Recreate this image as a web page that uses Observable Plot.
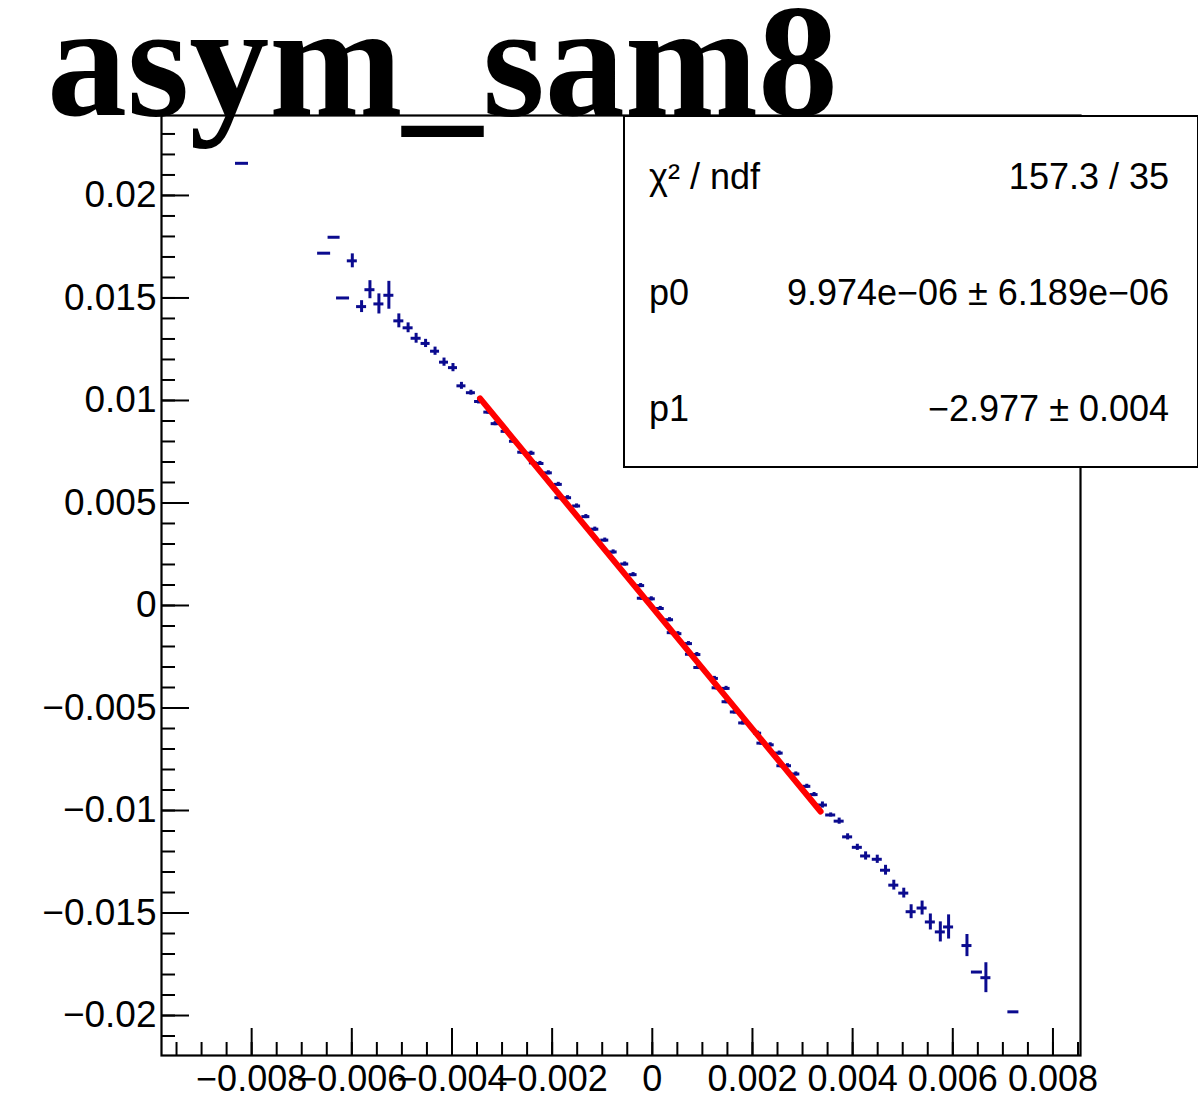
<!DOCTYPE html>
<html>
<head>
<meta charset="utf-8">
<script src="https://cdn.jsdelivr.net/npm/d3@7"></script>
<script src="https://cdn.jsdelivr.net/npm/@observablehq/plot@0.6"></script>
<style>
  html, body { margin: 0; padding: 0; background: #fff; }
  #wrap { position: relative; width: 1198px; height: 1117px; overflow: hidden; }
  #title { position: absolute; left: 47px; top: 0px; font-family: "Liberation Serif", "DejaVu Serif", serif; font-weight: bold; font-size: 160px; line-height: 122px; color: #000; white-space: nowrap; z-index: 2; }
  #stats { position: absolute; left: 623px; top: 115px; width: 572px; height: 349px; border: 2px solid #000; background: #fff; font-family: "Liberation Sans", Arial, sans-serif; font-size: 36px; color: #000; z-index: 1; }
  .row { position: absolute; left: 24px; right: 28px; height: 40px; line-height: 40px; }
  .row .k { position: absolute; left: 0; }
  .row .v { position: absolute; right: 0; white-space: nowrap; }
</style>
</head>
<body>
<div id="wrap">
  <div id="chart"></div>
  <div id="title"></div>
  <div id="stats"></div>
</div>
<script>
// ---- data ----
const titleText = "asym_sam8";
const xVals = [-0.008193,-0.006553,-0.006354,-0.006175,-0.005990,-0.005805,-0.005638,-0.005459,-0.005260,-0.005061,
  -0.004876,-0.004716,-0.004527,-0.004338,-0.004159,-0.003980,-0.003811,-0.003622,-0.003469,
  -0.003284,-0.003138,-0.002939,-0.002772,-0.002607,-0.002422,-0.002374,-0.002243,-0.002076,-0.001877,
  -0.001865,-0.001692,-0.001512,-0.001327,-0.001148,-0.000949,-0.000782,-0.000551,-0.000384,-0.000233,
  -0.000219,-0.000020,0.000159,0.000344,0.000378,0.000511,0.000722,0.000742,0.000890,0.000909,
  0.001240,0.001274,0.001473,0.001473,0.001638,0.001805,0.002103,0.002169,0.002354,0.002533,
  0.002567,0.002700,0.002866,0.003085,0.003230,
  0.003397,0.003562,0.003731,0.003900,0.004094,0.004259,0.004492,0.004657,0.004822,0.005021,
  0.005168,0.005387,0.005552,0.005751,0.005916,0.006283,0.006482,0.006661,0.007210];
const yVals = [0.021568,0.017184,0.017961,0.015000,0.016811,0.014578,0.015403,0.014709,0.015131,0.013883,
  0.013544,0.013034,0.012782,0.012403,0.011869,0.011602,0.010714,0.010379,0.009951,
  0.009432,0.008869,0.008495,0.008010,0.007476,0.007427,0.006956,0.006927,0.006471,0.005908,
  0.005257,0.005257,0.004854,0.004335,0.003723,0.003189,0.002612,0.002024,0.001505,0.000971,
  0.000354,0.000325,-0.000146,-0.000694,-0.001325,-0.001374,-0.001859,-0.002379,-0.002393,-0.003024,
  -0.003558,-0.004015,-0.004044,-0.004694,-0.005194,-0.005728,-0.006228,-0.006714,-0.006796,-0.007199,
  -0.007816,-0.007816,-0.008218,-0.008820,-0.009223,
  -0.009733,-0.010218,-0.010519,-0.011286,-0.011796,-0.012218,-0.012379,-0.012913,-0.013641,-0.014029,
  -0.014937,-0.014757,-0.015437,-0.015922,-0.015680,-0.016587,-0.017879,-0.018155,-0.019820];
const xErrs = [0.00013,0.00013,0.00012,0.00013,0.0001,0.0001,0.0001,0.0001,0.0001,0.0001,
  0.0001,0.0001,0.00009,0.00009,0.00009,0.00009,0.00009,0.00009,0.00008,
  0.00008,0.00008,0.00008,0.00008,0.00008,0.00008,0.00008,0.00008,0.00008,0.00008,
  0.00008,0.00008,0.00008,0.00008,0.00008,0.00008,0.00008,0.00008,0.00008,0.00008,
  0.00008,0.00008,0.00008,0.00008,0.00008,0.00008,0.00008,0.00008,0.00008,0.00008,
  0.00008,0.00008,0.00008,0.00008,0.00008,0.00008,0.00008,0.00008,0.00008,0.00008,
  0.00008,0.00008,0.00008,0.00008,0.00008,
  0.0001,0.0001,0.0001,0.0001,0.0001,0.0001,0.0001,0.0001,0.0001,0.0001,
  0.0001,0.0001,0.0001,0.0001,0.0001,0.0001,0.00011,0.0001,0.00011];
const yErrs = [0,0,0,0,0.00034,0.00029,0.00044,0.00049,0.00068,0.00034,
  0.00024,0.00024,0.0002,0.0002,0.0002,0.0002,0.00017,0.00012,0.00012,
  0.0001,0.0001,0.0001,0.0001,0.0001,0.0001,0.0001,0.0001,0.0001,0.0001,
  0.0001,0.0001,0.0001,0.0001,0.0001,0.0001,0.0001,0.0001,0.0001,0.0001,
  0.0001,0.0001,0.0001,0.0001,0.0001,0.0001,0.0001,0.0001,0.0001,0.0001,
  0.0001,0.0001,0.0001,0.0001,0.0001,0.0001,0.0001,0.0001,0.0001,0.0001,
  0.0001,0.0001,0.0001,0.0001,0.0001,
  0.00015,0.0001,0.00015,0.00015,0.00015,0.0002,0.0002,0.00024,0.00024,0.00024,
  0.00034,0.00034,0.00039,0.00049,0.00059,0.00054,0,0.00073,0];
// fitted line endpoints (red)
const fitX = [-0.00344, 0.00336];
const fitY = [0.0101, -0.01005];
// axis ticks
const xMajor = [-0.008,-0.006,-0.004,-0.002,0,0.002,0.004,0.006,0.008];
const yMajor = [-0.02,-0.015,-0.01,-0.005,0,0.005,0.01,0.015,0.02];
const xMinorStep = 0.0005;
const yMinorStep = 0.001;
// stats box
const statKeys = ["χ² / ndf", "p0", "p1"];
const statVals = ["157.3 / 35", "9.974e−06 ± 6.189e−06", "−2.977 ± 0.004"];

// ---- build ----
const points = xVals.map((x, i) => ({x, y: yVals[i], ex: xErrs[i], ey: yErrs[i]}));
const fitLine = fitX.map((x, i) => ({x, y: fitY[i]}));
const xDomain = [-0.0098, 0.00855];
const yDomain = [-0.02195, 0.0239];
const xMinor = d3.range(Math.round(xDomain[0] / xMinorStep), Math.round(xDomain[1] / xMinorStep) + 1).map(k => +(k * xMinorStep).toFixed(5))
  .filter(v => v >= xDomain[0] && v <= xDomain[1]);
const yMinor = d3.range(Math.round(yDomain[0] / yMinorStep), Math.round(yDomain[1] / yMinorStep) + 1).map(k => +(k * yMinorStep).toFixed(5))
  .filter(v => v >= yDomain[0] && v <= yDomain[1]);
const fmt = d => d === 0 ? "0" : String(+d.toFixed(4)).replace("-", "\u2212");

const W = 1198, H = 1117;
const mL = 161, mR = 118, mT = 115, mB = 62;
const fw = W - mL - mR, fh = H - mT - mB;
const blue = "#0b0b8f";

const chart = Plot.plot({
  width: W, height: H,
  marginLeft: mL, marginRight: mR, marginTop: mT, marginBottom: mB,
  style: {fontFamily: "'Liberation Sans', Arial, sans-serif", fontSize: "36px", color: "#000", background: "#fff"},
  x: {domain: xDomain},
  y: {domain: yDomain},
  marks: [
    // ticks pointing inward (ROOT style)
    Plot.ruleX(xMajor, {x: d => d, insetTop: fh - 27, stroke: "#000", strokeWidth: 2}),
    Plot.ruleX(xMinor, {x: d => d, insetTop: fh - 13, stroke: "#000", strokeWidth: 2}),
    Plot.ruleY(yMajor, {y: d => d, insetRight: fw - 28, stroke: "#000", strokeWidth: 2}),
    Plot.ruleY(yMinor, {y: d => d, insetRight: fw - 14, stroke: "#000", strokeWidth: 2}),
    Plot.axisX({ticks: xMajor, tickSize: 0, tickPadding: 10, tickFormat: fmt, label: null, fill: "#000"}),
    Plot.axisY({ticks: yMajor, tickSize: 0, tickPadding: 5, tickFormat: fmt, label: null, fill: "#000", fontSize: 37}),
    // error bars
    Plot.ruleY(points, {y: "y", x1: d => d.x - d.ex, x2: d => d.x + d.ex, stroke: blue, strokeWidth: 3}),
    Plot.ruleX(points.filter(d => d.ey > 0), {x: "x", y1: d => d.y - d.ey, y2: d => d.y + d.ey, stroke: blue, strokeWidth: 3}),
    // fit
    Plot.line(fitLine, {x: "x", y: "y", stroke: "#ff0000", strokeWidth: 6}),
    Plot.frame({stroke: "#000", strokeWidth: 2.2})
  ]
});
document.getElementById("chart").appendChild(chart);

document.getElementById("title").textContent = titleText;
const stats = document.getElementById("stats");
const rowTops = [40, 156, 272];
statKeys.forEach((k, i) => {
  const r = document.createElement("div");
  r.className = "row";
  r.style.top = rowTops[i] + "px";
  const a = document.createElement("span"); a.className = "k"; a.textContent = k;
  const b = document.createElement("span"); b.className = "v"; b.textContent = statVals[i];
  r.appendChild(a); r.appendChild(b);
  stats.appendChild(r);
});
</script>
</body>
</html>
